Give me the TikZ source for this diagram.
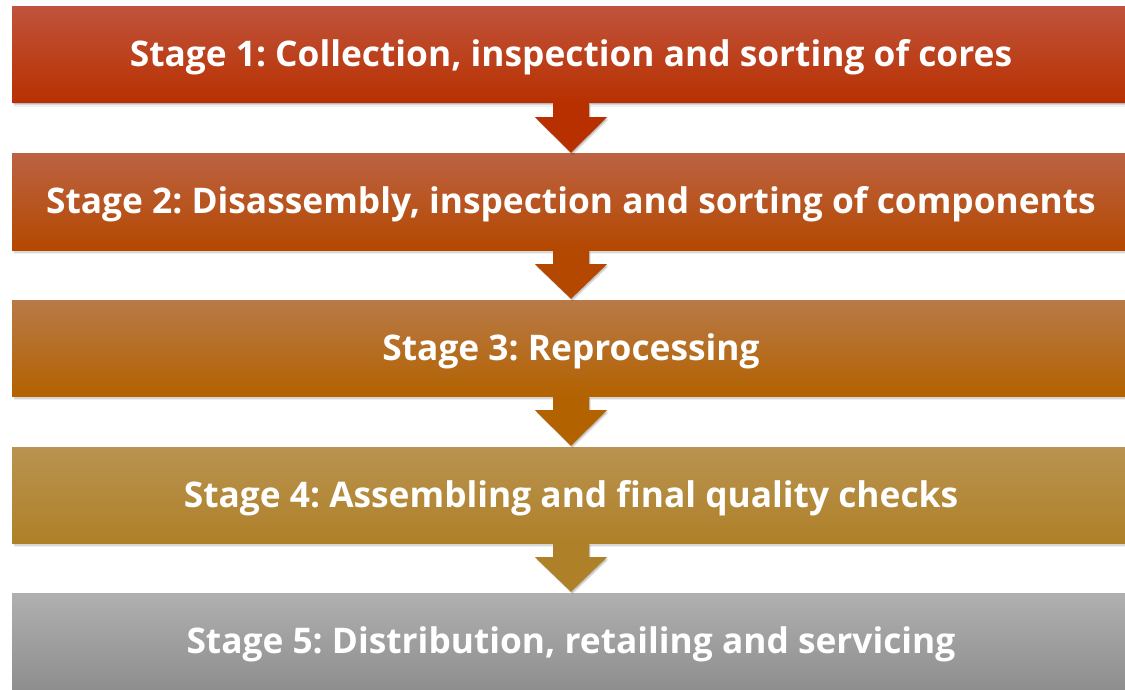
\documentclass[tikz,border=0pt]{standalone}
\usepackage{fontspec}
\setmainfont{Open Sans}[Ligatures=NoCommon]
\frenchspacing
\usetikzlibrary{calc,shadows}
\definecolor{aTop}{HTML}{C0533B}\definecolor{aBot}{HTML}{B83000}
\definecolor{bTop}{HTML}{BC6242}\definecolor{bBot}{HTML}{B44800}
\definecolor{cTop}{HTML}{B87A48}\definecolor{cBot}{HTML}{B36200}
\definecolor{dTop}{HTML}{B99350}\definecolor{dBot}{HTML}{AE8028}
\definecolor{eTop}{HTML}{B0B0B0}\definecolor{eBot}{HTML}{8E8E8E}
\tikzset{
  softshadow/.style={
    general shadow={fill=black,opacity=.06,shadow xshift=2pt,shadow yshift=-4pt},
    general shadow={fill=black,opacity=.10,shadow xshift=1.5pt,shadow yshift=-2.5pt},
    general shadow={fill=black,opacity=.14,shadow xshift=1pt,shadow yshift=-1.2pt}},
  stagebox/.style={rectangle,inner sep=0pt,minimum width=1118pt,minimum height=96pt,
    text=white,font=\bfseries\fontsize{35.3}{38}\selectfont,
    text height=25pt,text depth=1pt,softshadow},
  flowarrow/.style={fill=#1,
    preaction={fill=black,opacity=.10,transform canvas={xshift=1.5pt,yshift=-2.5pt}},
    preaction={fill=black,opacity=.14,transform canvas={xshift=1pt,yshift=-1.2pt}}}
}
\begin{document}
\begin{tikzpicture}[x=1pt,y=-1pt]
\useasboundingbox (0,0) rectangle (1125,690);
\fill[white] (0,0) rectangle (1125,690);
% five stages, top to bottom
\node[stagebox,top color=aTop,bottom color=aBot] (s1) at (571,55)
  {Stage 1: Collection, inspection and sorting of cores};
\node[stagebox,top color=bTop,bottom color=bBot] (s2) at (571,202)
  {Stage 2: Disassembly, inspection and sorting of components};
\node[stagebox,top color=cTop,bottom color=cBot] (s3) at (571,348)
  {Stage 3: Reprocessing};
\node[stagebox,top color=dTop,bottom color=dBot] (s4) at (571,495)
  {Stage 4: Assembling and final quality checks};
\node[stagebox,top color=eTop,bottom color=eBot] (s5) at (571,641)
  {Stage 5: Distribution, retailing and servicing};
% block arrows joining consecutive stages
\foreach \a/\b/\c in {s1/s2/aBot,s2/s3/bBot,s3/s4/cBot,s4/s5/dBot}{
  \fill[flowarrow=\c]
    ($(\a.south)+(-18,0)$) -- ($(\a.south)+(-18,14)$) -- ($(\a.south)+(-36,14)$)
    -- ($(\b.north)+(0,-1)$)
    -- ($(\a.south)+(36,14)$) -- ($(\a.south)+(18,14)$) -- ($(\a.south)+(18,0)$) -- cycle;
}
\end{tikzpicture}
\end{document}
